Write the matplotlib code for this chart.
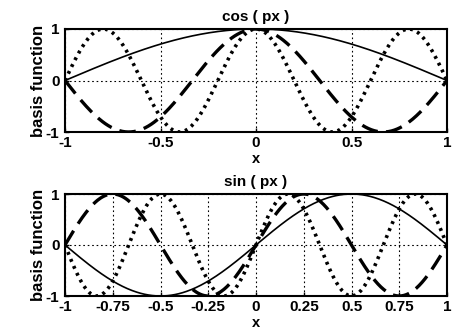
import numpy as np
import matplotlib
matplotlib.use('Agg')
import matplotlib.pyplot as plt

plt.rcParams['font.family'] = ['Liberation Sans', 'DejaVu Sans']
plt.rcParams['font.weight'] = 'bold'

# basis function parameters (multiples of pi)
cos_p = [0.5, 1.5, 2.5]
sin_p = [1.0, 2.0, 3.0]
styles = ['-', '--', ':']
widths = [1.2, 2.4, 2.6]

cos_xticks = [-1, -0.5, 0, 0.5, 1]
cos_xlabels = ['-1', '-0.5', '0', '0.5', '1']
sin_xticks = [-1, -0.75, -0.5, -0.25, 0, 0.25, 0.5, 0.75, 1]
sin_xlabels = ['-1', '-0.75', '-0.5', '-0.25', '0', '0.25', '0.5', '0.75', '1']
yticks = [-1, 0, 1]

x = np.linspace(-1, 1, 400)

fig = plt.figure(figsize=(4.7, 3.33), dpi=100)
ax1 = fig.add_axes([65/470, 1 - 132/333, 382/470, 103/333])
ax2 = fig.add_axes([65/470, 1 - 296/333, 382/470, 102/333])

def draw(ax, vals, p_list):
    for p, ls, lw in zip(p_list, styles, widths):
        y = vals(p * np.pi * x)
        if ls == '--':
            ax.plot(x, y, color='black', lw=lw, dashes=(5, 2.5))
        elif ls == ':':
            ax.plot(x, y, color='black', lw=lw, dashes=(0.8, 1.3))
        else:
            ax.plot(x, y, color='black', lw=lw)

def setup(ax, title, xt, xl):
    ax.set_xlim(-1, 1); ax.set_ylim(-1, 1)
    ax.set_xticks(xt); ax.set_xticklabels(xl)
    ax.set_yticks(yticks); ax.set_yticklabels(['-1', '0', '1'])
    ax.tick_params(direction='in', labelsize=11, length=3, width=1)
    ax.tick_params(axis='x', pad=3)
    ax.tick_params(axis='y', pad=4)
    ax.grid(True, color='black', linestyle=(0, (1.5, 2.5)), linewidth=0.8)
    for s in ax.spines.values():
        s.set_linewidth(1.5)
    ax.set_title(title, fontsize=11, fontweight='bold', pad=6)
    ax.set_xlabel('x', fontsize=10.5, fontweight='bold', labelpad=1)
    ax.set_ylabel('basis function', fontsize=12, fontweight='bold', labelpad=0)

draw(ax1, np.cos, cos_p)
setup(ax1, 'cos ( px )', cos_xticks, cos_xlabels)

draw(ax2, np.sin, sin_p)
setup(ax2, 'sin ( px )', sin_xticks, sin_xlabels)

fig.savefig('out.png', dpi=100)
